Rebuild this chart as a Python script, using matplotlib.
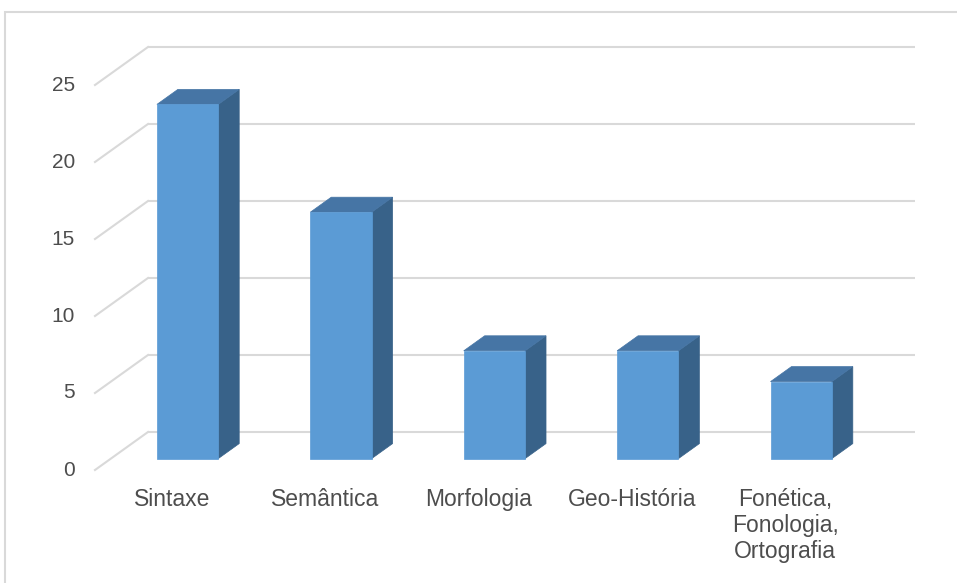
import numpy as np
import matplotlib.pyplot as plt
from matplotlib.patches import Polygon, Rectangle

categories = ['Sintaxe', 'Semântica', 'Morfologia', 'Geo-História',
              'Fonética,\nFonologia,\nOrtografia']
values = [23, 16, 7, 7, 5]
ticks = [0, 5, 10, 15, 20, 25]

plt.rcParams['font.family'] = ['Liberation Sans', 'DejaVu Sans']

# pixel layout of the back wall (figure 957x583 at 100 dpi)
px_cat = 153.4      # pixels per category slot
px_val = 15.4       # pixels per value unit
wall_left = 148
wall_base = 432

# oblique offset for the full floor depth, in data units
depth_dx = -53 / px_cat
depth_dy = -38 / px_val

bar_w = 0.4
d_front = 0.70
d_back = 0.305

front_col = '#5B9BD5'
top_col = '#4675A5'
side_col = '#386289'
grid_col = '#D9D9D9'
text_col = '#4D4D4D'

fig = plt.figure(figsize=(9.57, 5.83), dpi=100)
ax = fig.add_axes([0, 0, 1, 1])
ax.set_xlim(-0.5 - wall_left / px_cat, -0.5 + (957 - wall_left) / px_cat)
ax.set_ylim(-(583 - wall_base) / px_val, wall_base / px_val)
ax.axis('off')

# chart border
fig.patches.append(Rectangle((5 / 957, -0.1), 1.2, 1 - 12 / 583 + 0.1,
                             transform=fig.transFigure, fill=False,
                             edgecolor=grid_col, lw=1.5))

n = len(categories)
x0, x1 = -0.5, n - 0.5
for t in ticks:
    ax.plot([x0, x1], [t, t], color=grid_col, lw=1.5, zorder=1, solid_capstyle='butt')
    ax.plot([x0, x0 + depth_dx], [t, t + depth_dy], color=grid_col, lw=1.5, zorder=1)
    ax.text(x0 + depth_dx - 20 / px_cat, t + depth_dy, str(t), ha='right', va='center',
            fontsize=15, color=text_col)


def proj(x, y, d):
    return (x + d * depth_dx, y + d * depth_dy)


for i, v in enumerate(values):
    l, r = i - bar_w / 2, i + bar_w / 2
    front = [proj(l, 0, d_front), proj(r, 0, d_front), proj(r, v, d_front), proj(l, v, d_front)]
    side = [proj(r, 0, d_front), proj(r, 0, d_back), proj(r, v, d_back), proj(r, v, d_front)]
    top = [proj(l, v, d_front), proj(r, v, d_front), proj(r, v, d_back), proj(l, v, d_back)]
    ax.add_patch(Polygon(side, closed=True, facecolor=side_col, edgecolor=side_col, lw=0.5, zorder=3))
    ax.add_patch(Polygon(top, closed=True, facecolor=top_col, edgecolor=top_col, lw=0.5, zorder=3))
    ax.add_patch(Polygon(front, closed=True, facecolor=front_col, edgecolor=front_col, lw=0.5, zorder=4))

    lx, ly = proj(i, 0, 1.0)
    ax.text(lx, ly - 18 / px_val, categories[i], ha='center', va='top',
            fontsize=16.5, color=text_col, linespacing=1.18)

fig.savefig('out.png', dpi=100)
